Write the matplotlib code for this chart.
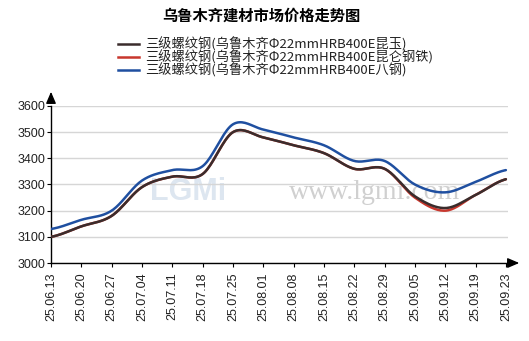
import numpy as np
import matplotlib
matplotlib.use("Agg")
import matplotlib.pyplot as plt

plt.rcParams['font.family'] = ['Liberation Sans', 'Noto Sans CJK SC', 'DejaVu Sans']

title = "乌鲁木齐建材市场价格走势图"
dates = ["25.06.13", "25.06.20", "25.06.27", "25.07.04", "25.07.11", "25.07.18",
         "25.07.25", "25.08.01", "25.08.08", "25.08.15", "25.08.22", "25.08.29",
         "25.09.05", "25.09.12", "25.09.19", "25.09.23"]
kunyu = [3100, 3140, 3180, 3290, 3330, 3340, 3500, 3480, 3450, 3420, 3360, 3360, 3255, 3210, 3260, 3320]
kunlun = [3100, 3140, 3180, 3290, 3330, 3340, 3500, 3480, 3450, 3420, 3360, 3360, 3250, 3200, 3260, 3320]
bagang = [3130, 3165, 3200, 3315, 3355, 3370, 3530, 3510, 3480, 3450, 3390, 3390, 3300, 3270, 3310, 3355]
names = ["三级螺纹钢(乌鲁木齐Φ22mmHRB400E昆玉)",
         "三级螺纹钢(乌鲁木齐Φ22mmHRB400E昆仑钢铁)",
         "三级螺纹钢(乌鲁木齐Φ22mmHRB400E八钢)"]
colors = ["#3a2c2c", "#c8372d", "#1f4fa0"]
yticks = [3000, 3100, 3200, 3300, 3400, 3500, 3600]


def smooth(y, n=20):
    y = np.asarray(y, float)
    p = np.concatenate([[y[0]], y, [y[-1]]])
    xs, ys = [], []
    for i in range(len(y) - 1):
        p0, p1, p2, p3 = p[i], p[i + 1], p[i + 2], p[i + 3]
        t = np.linspace(0, 1, n, endpoint=False)
        v = 0.5 * ((2 * p1) + (-p0 + p2) * t + (2 * p0 - 5 * p1 + 4 * p2 - p3) * t ** 2
                   + (-p0 + 3 * p1 - 3 * p2 + p3) * t ** 3)
        xs.append(i + t)
        ys.append(v)
    xs.append([len(y) - 1])
    ys.append([y[-1]])
    return np.concatenate(xs), np.concatenate(ys)


W, H = 529, 341
fig = plt.figure(figsize=(W / 100, H / 100), dpi=100)
fig.patch.set_facecolor("white")
L, R, T, B = 51, 508, 106, 263
ax = fig.add_axes([L / W, 1 - B / H, (R - L) / W, (B - T) / H])
ax.set_xlim(0, 15.07)
ax.set_ylim(3000, 3600)

for s in ["top", "right"]:
    ax.spines[s].set_visible(False)
ax.spines["left"].set_color("black")
ax.spines["bottom"].set_color("black")
ax.spines["left"].set_linewidth(1)
ax.spines["bottom"].set_linewidth(1)

ax.set_yticks(yticks)
ax.set_yticklabels([str(v) for v in yticks], fontsize=9)
ax.set_xticks(range(len(dates)))
ax.set_xticklabels(dates, rotation=90, fontsize=9)
ax.tick_params(axis="y", length=3, pad=1, colors="black", labelcolor="#222222")
ax.tick_params(axis="x", length=3, pad=4, colors="black", labelcolor="#222222")
ax.grid(axis="y", color="#d6d6d6", linewidth=1)
ax.set_axisbelow(True)

# watermark
ax.text(0.52, 0.45, "www.lgmi.com", transform=ax.transAxes, fontsize=20,
        family="Liberation Serif", color="#d0d0d0", ha="left", va="center", zorder=0.5)
ax.text(0.3, 0.45, "LGMi", transform=ax.transAxes, fontsize=22, fontweight="bold",
        color="#dde6f0", ha="center", va="center", zorder=0.5)

for data, c in [(kunlun, colors[1]), (kunyu, colors[0]), (bagang, colors[2])]:
    xs, ys = smooth(data)
    ax.plot(xs, ys, color=c, linewidth=1.8, solid_capstyle="round", zorder=3)

# axis arrows
ax.annotate("", xy=(522 / W, 1 - B / H), xycoords="figure fraction",
            xytext=(505 / W, 1 - B / H), textcoords="figure fraction",
            arrowprops=dict(arrowstyle="-|>,head_length=0.7,head_width=0.3", color="black", lw=1))
ax.annotate("", xy=(L / W, 1 - 89 / H), xycoords="figure fraction",
            xytext=(L / W, 1 - 106 / H), textcoords="figure fraction",
            arrowprops=dict(arrowstyle="-|>,head_length=0.7,head_width=0.3", color="black", lw=1))

fig.text(261 / W, 1 - 16 / H, title, ha="center", va="center", fontsize=11,
         fontweight="bold", family=["Noto Sans CJK SC"])

rows = [44, 57, 70]
for name, c, yy in zip(names, colors, rows):
    fig.add_artist(plt.Line2D([118 / W, 139 / W], [1 - yy / H, 1 - yy / H], color=c,
                              linewidth=1.8, transform=fig.transFigure))
    fig.text(145 / W, 1 - yy / H, name, ha="left", va="center", fontsize=9.5,
             family=["Noto Sans CJK SC", "DejaVu Sans"], color="#222222")

fig.savefig("out.png", dpi=100, facecolor="white")
